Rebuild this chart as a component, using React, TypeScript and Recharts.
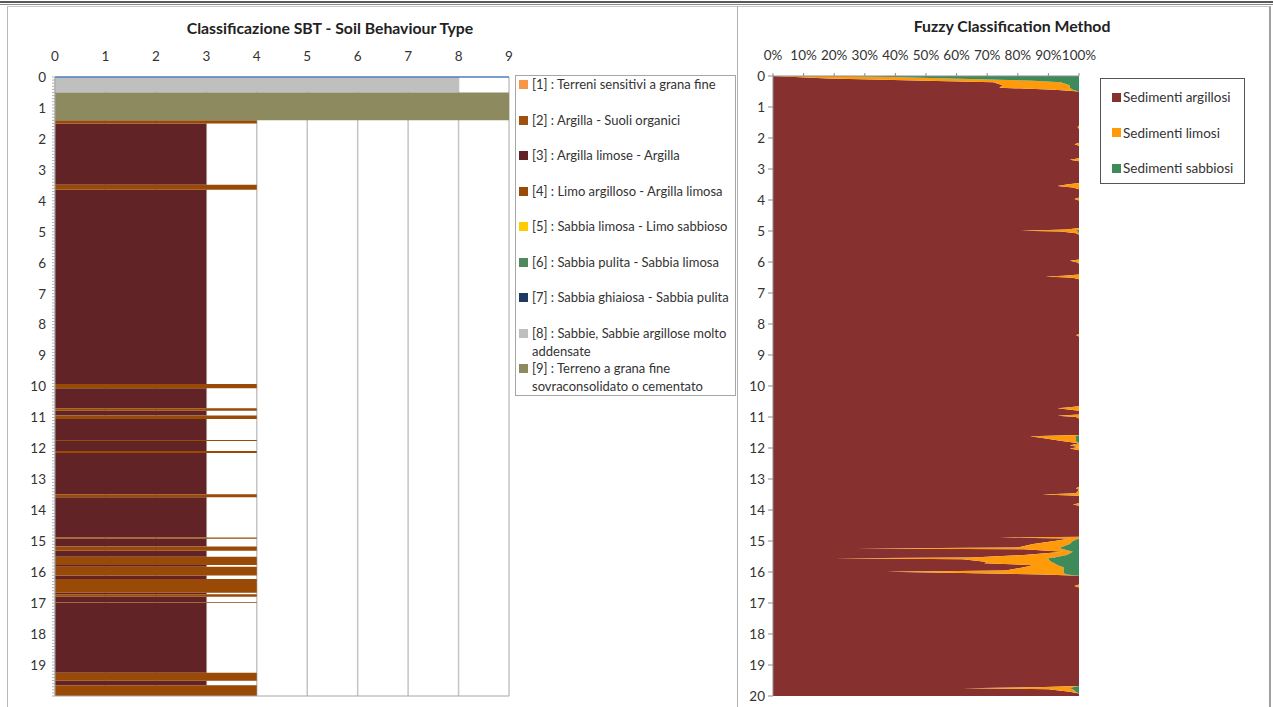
import React from "react";
import { ComposedChart, Area, XAxis, YAxis, CartesianGrid, ReferenceLine, Legend } from "recharts";

const FONT = "Lato, 'Open Sans', sans-serif";

// SBT classification: layer tops (m) and class of each layer, last layer ends at SBT_BOTTOM
const SBT_NAMES = [
  "[1] : Terreni sensitivi a grana fine",
  "[2] : Argilla - Suoli organici",
  "[3] : Argilla limose - Argilla",
  "[4] : Limo argilloso - Argilla limosa",
  "[5] : Sabbia limosa - Limo sabbioso",
  "[6] : Sabbia pulita - Sabbia limosa",
  "[7] : Sabbia ghiaiosa - Sabbia pulita",
  "[8] : Sabbie, Sabbie argillose molto addensate",
  "[9] : Terreno a grana fine sovraconsolidato o cementato",
];
const SBT_COLORS = ["#F79646", "#A0500F", "#612325", "#994A07", "#FFCC00", "#4E8A5C", "#1F3A60", "#BFBFBF", "#8C8A5E"];
const sbtLayerTop = [
  0, 0.5, 1.4, 1.5, 3.48, 3.64, 9.92, 10.06, 10.7, 10.78, 10.94, 11.05, 11.73, 11.76, 12.08, 12.15, 13.48, 13.58,
  14.88, 14.92, 15.17, 15.31, 15.5, 15.77, 15.82, 16.11, 16.22, 16.66, 16.71, 16.79, 16.96, 16.99, 19.25, 19.51, 19.65,
];
const sbtLayerClass = [
  8, 9, 4, 3, 4, 3, 4, 3, 4, 3, 4, 3, 4, 3, 4, 3, 4, 3,
  4, 3, 4, 3, 4, 3, 4, 3, 4, 3, 4, 3, 4, 3, 4, 3, 4,
];
const SBT_BOTTOM = 20;
const sbtXTicks = [0, 1, 2, 3, 4, 5, 6, 7, 8, 9];

// Fuzzy classification, percentages per depth
const FUZZY_NAMES = ["Sedimenti argillosi", "Sedimenti limosi", "Sedimenti sabbiosi"];
const FUZZY_COLORS = ["#86302F", "#FF9A0A", "#3E8A5A"];
const fuzzyDepth = [
  0, 0.08, 0.15, 0.2, 0.3, 0.38, 0.44, 0.5, 1.6, 1.65,
  1.7, 2.15, 2.2, 2.25, 2.65, 2.7, 2.75, 3.45, 3.5, 3.55,
  3.6, 3.65, 3.92, 3.97, 4.02, 4.9, 4.95, 4.99, 5.02, 5.07,
  5.12, 5.92, 5.96, 6.0, 6.05, 6.4, 6.44, 6.47, 6.51, 6.56,
  8.32, 8.36, 8.4, 10.65, 10.69, 10.72, 10.8, 10.92, 10.96, 11.0,
  11.05, 11.58, 11.62, 11.68, 11.78, 11.85, 11.92, 11.97, 12.02, 12.07,
  13.25, 13.3, 13.35, 13.46, 13.5, 13.54, 13.78, 13.82, 13.86, 14.86,
  14.89, 14.92, 15.0, 15.1, 15.21, 15.24, 15.27, 15.35, 15.45, 15.53,
  15.56, 15.59, 15.68, 15.72, 15.78, 15.85, 15.95, 15.99, 16.03, 16.08,
  16.12, 16.4, 16.45, 16.5, 19.68, 19.72, 19.75, 19.78, 19.86, 19.92, 20,
];
const fuzzyArgillosi = [
  0, 18, 50, 72, 75, 74, 92, 100, 100, 99.5,
  100, 100, 98.5, 100, 100, 97, 100, 100, 96, 93,
  98, 100, 100, 98.5, 100, 100, 96, 81, 94, 99,
  100, 100, 97, 99, 100, 100, 95, 89, 98, 100,
  100, 99, 100, 100, 96, 93, 100, 100, 93, 99,
  100, 100, 84, 88, 95, 100, 97, 100, 97, 100,
  100, 99, 100, 99, 88, 100, 100, 98, 100, 100,
  74, 97, 92, 85, 80, 27, 82, 95, 82, 65,
  20, 62, 70, 69, 85, 82, 76, 37, 62, 88,
  100, 100, 98.5, 100, 100, 86, 62, 90, 97, 100, 100,
];
const fuzzyLimosi = [
  25, 40, 35, 22, 22, 23, 6, 0, 0, 0.5,
  0, 0, 1.5, 0, 0, 3, 0, 0, 4, 7,
  2, 0, 0, 1.5, 0, 0, 4, 18, 5.5, 1,
  0, 0, 3, 1, 0, 0, 5, 11, 2, 0,
  0, 1, 0, 0, 4, 7, 0, 0, 7, 1,
  0, 0, 15, 11, 4, 0, 3, 0, 3, 0,
  0, 1, 0, 1, 12, 0, 0, 2, 0, 0,
  26, 3, 6, 12, 14, 67, 13, 3, 14, 27,
  70, 28, 21, 23, 8, 13, 19, 58, 33, 8,
  0, 0, 1.5, 0, 0, 12, 35, 8, 2, 0, 0,
];
const fuzzySabbiosi = [
  75, 42, 15, 6, 3, 3, 2, 0, 0, 0,
  0, 0, 0, 0, 0, 0, 0, 0, 0, 0,
  0, 0, 0, 0, 0, 0, 0, 1, 0.5, 0,
  0, 0, 0, 0, 0, 0, 0, 0, 0, 0,
  0, 0, 0, 0, 0, 0, 0, 0, 0, 0,
  0, 0, 1, 1, 1, 0, 0, 0, 0, 0,
  0, 0, 0, 0, 0, 0, 0, 0, 0, 0,
  0, 0, 2, 3, 6, 6, 5, 2, 4, 8,
  10, 10, 9, 8, 7, 5, 5, 5, 5, 4,
  0, 0, 0, 0, 0, 2, 3, 2, 1, 0, 0,
];
const pctTicks = [0, 0.1, 0.2, 0.3, 0.4, 0.5, 0.6, 0.7, 0.8, 0.9, 1];
const depthTicks = [0, 1, 2, 3, 4, 5, 6, 7, 8, 9, 10, 11, 12, 13, 14, 15, 16, 17, 18, 19, 20];

// each layer -> two rows (top, bottom) so the class series draw flat-topped blocks
const sbtData = sbtLayerTop.flatMap((top, i) => {
  const bottom = i + 1 < sbtLayerTop.length ? sbtLayerTop[i + 1] : SBT_BOTTOM;
  const row = (depth: number) => {
    const r: Record<string, number> = { depth };
    SBT_NAMES.forEach((_, k) => {
      r[`c${k + 1}`] = sbtLayerClass[i] === k + 1 ? sbtLayerClass[i] : 0;
    });
    return r;
  };
  return [row(top), row(bottom)];
});

const fuzzyData = fuzzyDepth.map((depth, i) => ({
  depth,
  argillosi: fuzzyArgillosi[i],
  limosi: fuzzyLimosi[i],
  sabbiosi: fuzzySabbiosi[i],
}));

// ruler-like minor ticks on the SBT depth axis
const sbtMinorTicks = Array.from({ length: 201 }, (_, i) => i / 10);

const SbtDepthTick = (props: any) => {
  const { x, y, payload } = props;
  const v = payload.value;
  const major = Math.abs(v - Math.round(v)) < 1e-6;
  return (
    <g>
      <line x1={x - 3} x2={x} y1={y} y2={y} stroke="#B0B0B0" strokeWidth={1} />
      {major && v < 20 && (
        <text x={x - 9} y={y} dy="0.36em" textAnchor="end" fill="#333" fontSize={13.5} fontFamily={FONT}>
          {Math.round(v)}
        </text>
      )}
    </g>
  );
};

const SbtLegend = ({ payload }: any) => (
  <div
    style={{
      width: 221,
      height: 321,
      boxSizing: "border-box",
      border: "1px solid #A6A6A6",
      background: "#fff",
      padding: "0 0 0 3px",
      fontFamily: FONT,
    }}
  >
    {(payload || []).map((p: any, i: number) => (
      <div key={p.value} style={{ height: 35.5, display: "flex", alignItems: "flex-start" }}>
        <span
          style={{ width: 9, height: 9, background: SBT_COLORS[i], marginTop: 4, marginRight: 4, flexShrink: 0 }}
        />
        <span style={{ fontSize: 13, lineHeight: "18px", marginTop: -1, color: "#333", width: 204 }}>{p.value}</span>
      </div>
    ))}
  </div>
);

const FuzzyLegend = ({ payload }: any) => (
  <div
    style={{
      width: 145,
      height: 106,
      boxSizing: "border-box",
      border: "1px solid #555",
      background: "#fff",
      padding: "9px 0 0 11px",
      fontFamily: FONT,
    }}
  >
    {(payload || []).map((p: any, i: number) => (
      <div key={p.value} style={{ height: 35.5, display: "flex", alignItems: "flex-start" }}>
        <span
          style={{ width: 9, height: 9, background: FUZZY_COLORS[i], marginTop: 4.5, marginRight: 2, flexShrink: 0 }}
        />
        <span style={{ fontSize: 13.5, lineHeight: "18px", color: "#333", whiteSpace: "nowrap" }}>{p.value}</span>
      </div>
    ))}
  </div>
);

const titleStyle: React.CSSProperties = {
  position: "absolute",
  fontFamily: FONT,
  fontWeight: 700,
  fontSize: 15.8,
  lineHeight: "19px",
  color: "#222",
  textAlign: "center",
  whiteSpace: "nowrap",
};

export default function App() {
  return (
    <div
      style={{
        position: "fixed",
        left: 0,
        top: 0,
        width: 1273,
        height: 707,
        background: "#fff",
        overflow: "hidden",
        fontFamily: FONT,
      }}
    >
      {/* outer frame */}
      <div style={{ position: "absolute", left: 0, top: 1, width: 1273, height: 2, background: "#5A5A5A" }} />
      <div style={{ position: "absolute", left: 0, top: 4, width: 1273, height: 1, background: "#8A8A8A" }} />
      <div
        style={{
          position: "absolute",
          left: 7,
          top: 6,
          width: 1264,
          height: 720,
          borderTop: "1px solid #C8C8C8",
          borderLeft: "1px solid #B8B8B8",
          borderRight: "2px solid #A0A0A0",
          boxSizing: "border-box",
        }}
      />
      <div style={{ position: "absolute", left: 737, top: 6, width: 1, height: 720, background: "#B0B0B0" }} />

      <div style={{ ...titleStyle, left: 130, top: 17.5, width: 400 }}>Classificazione SBT - Soil Behaviour Type</div>
      <div style={{ ...titleStyle, left: 812, top: 15.5, width: 400 }}>Fuzzy Classification Method</div>

      {/* SBT chart */}
      <div style={{ position: "absolute", left: 0, top: 0 }}>
        <ComposedChart
          width={740}
          height={707}
          layout="vertical"
          data={sbtData}
          margin={{ top: 47, left: 15, right: 231, bottom: 11 }}
        >
          <CartesianGrid horizontal={false} stroke="#C4C4C4" strokeWidth={1.5} />
          <XAxis
            type="number"
            orientation="top"
            domain={[0, 9]}
            ticks={sbtXTicks}
            interval={0}
            height={30}
            tickSize={0}
            tickMargin={16}
            tickLine={false}
            axisLine={false}
            tick={{ fill: "#333", fontSize: 13.5, fontFamily: FONT }}
          />
          <YAxis
            type="number"
            dataKey="depth"
            domain={[0, 20]}
            allowDataOverflow
            ticks={sbtMinorTicks}
            interval={0}
            width={40}
            tickSize={0}
            tickMargin={0}
            tickLine={false}
            axisLine={{ stroke: "#A6A6A6" }}
            tick={<SbtDepthTick />}
          />
          {SBT_NAMES.map((name, k) => (
            <Area
              key={name}
              dataKey={`c${k + 1}`}
              name={name}
              type="linear"
              fill={SBT_COLORS[k]}
              fillOpacity={1}
              stroke="none"
              dot={false}
              activeDot={false}
              isAnimationActive={false}
            />
          ))}
          <ReferenceLine y={0} stroke="#4A7EBB" strokeWidth={1.5} />
          <ReferenceLine y={20} stroke="#A6A6A6" strokeWidth={1} />
          <Legend
            layout="vertical"
            align="center"
            verticalAlign="middle"
            wrapperStyle={{ left: 515, top: 75, width: 221 }}
            content={<SbtLegend />}
          />
        </ComposedChart>
      </div>

      {/* Fuzzy chart */}
      <div style={{ position: "absolute", left: 740, top: 0 }}>
        <ComposedChart
          width={533}
          height={707}
          layout="vertical"
          data={fuzzyData}
          stackOffset="expand"
          margin={{ top: 46, left: 8, right: 194, bottom: 11 }}
        >
          <XAxis
            type="number"
            orientation="top"
            domain={[0, 1]}
            ticks={pctTicks}
            interval={0}
            height={30}
            tickSize={3}
            tickMargin={13}
            tickLine={{ stroke: "#8C8C8C" }}
            axisLine={{ stroke: "#8C8C8C" }}
            tickFormatter={(v: number) => `${Math.round(v * 100)}%`}
            tick={{ fill: "#333", fontSize: 13.5, fontFamily: FONT }}
          />
          <YAxis
            type="number"
            dataKey="depth"
            domain={[0, 20]}
            ticks={depthTicks}
            interval={0}
            width={25}
            tickSize={5}
            tickMargin={3}
            tickLine={{ stroke: "#8C8C8C" }}
            axisLine={{ stroke: "#8C8C8C" }}
            tick={{ fill: "#333", fontSize: 13.5, fontFamily: FONT }}
          />
          <Area dataKey="argillosi" name={FUZZY_NAMES[0]} stackId="f" type="linear" fill={FUZZY_COLORS[0]} fillOpacity={1} stroke="none" dot={false} activeDot={false} isAnimationActive={false} />
          <Area dataKey="limosi" name={FUZZY_NAMES[1]} stackId="f" type="linear" fill={FUZZY_COLORS[1]} fillOpacity={1} stroke="none" dot={false} activeDot={false} isAnimationActive={false} />
          <Area dataKey="sabbiosi" name={FUZZY_NAMES[2]} stackId="f" type="linear" fill={FUZZY_COLORS[2]} fillOpacity={1} stroke="none" dot={false} activeDot={false} isAnimationActive={false} />
          <Legend
            layout="vertical"
            align="center"
            verticalAlign="middle"
            wrapperStyle={{ left: 360, top: 78, width: 145 }}
            content={<FuzzyLegend />}
          />
        </ComposedChart>
      </div>
    </div>
  );
}
